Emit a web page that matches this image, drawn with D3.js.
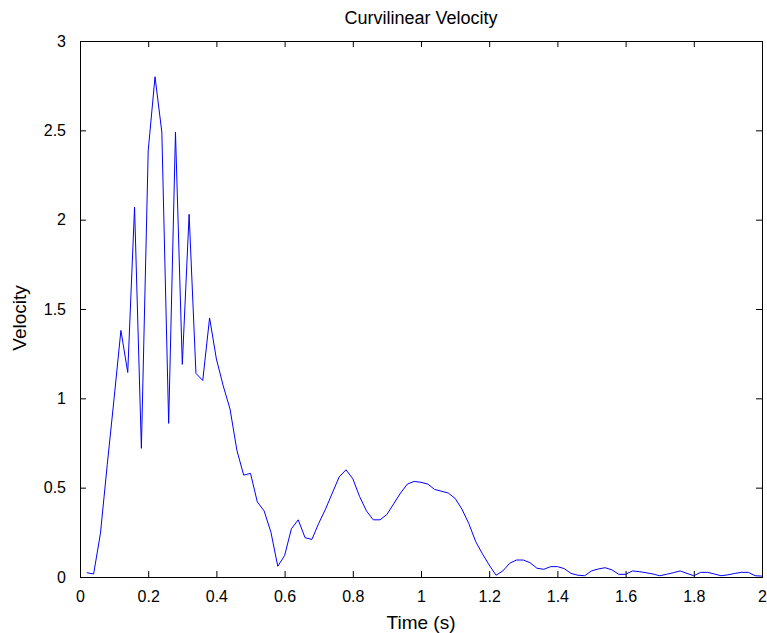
<!DOCTYPE html>
<html>
<head>
<meta charset="utf-8">
<script src="https://cdn.jsdelivr.net/npm/d3@7"></script>
<style>
  html, body { margin: 0; padding: 0; background: #fff; }
  svg { display: block; }
  text { font-family: "Liberation Sans", Arial, Helvetica, sans-serif; fill: #000; }
</style>
</head>
<body>
<svg id="chart" width="767" height="633"></svg>
<script>
// ---- Data ----
const timeStep = 0.02;
const velocity = [
  0.024, 0.017, 0.245, 0.63, 1.0, 1.38, 1.145, 2.07, 0.72, 2.385,
  2.8, 2.49, 0.86, 2.49, 1.19, 2.03, 1.14, 1.10, 1.45, 1.22,
  1.07, 0.94, 0.71, 0.57, 0.58, 0.42, 0.37, 0.25, 0.06, 0.12,
  0.27, 0.32, 0.22, 0.21, 0.30, 0.38, 0.47, 0.56, 0.60, 0.55,
  0.45, 0.37, 0.32, 0.32, 0.35, 0.41, 0.47, 0.52, 0.535, 0.53,
  0.52, 0.49, 0.48, 0.47, 0.44, 0.38, 0.30, 0.20, 0.13, 0.067,
  0.01, 0.034, 0.077, 0.095, 0.095, 0.08, 0.049, 0.043, 0.058, 0.058,
  0.047, 0.02, 0.01, 0.007, 0.034, 0.045, 0.052, 0.04, 0.015, 0.015,
  0.034, 0.03, 0.024, 0.017, 0.007, 0.015, 0.024, 0.034, 0.02, 0.007,
  0.026, 0.026, 0.017, 0.007, 0.012, 0.02, 0.026, 0.026, 0.007, 0.005
];
const time = velocity.map((v, i) => +((i + 1) * timeStep).toFixed(2));
const xTicks = [0, 0.2, 0.4, 0.6, 0.8, 1, 1.2, 1.4, 1.6, 1.8, 2];
const yTicks = [0, 0.5, 1, 1.5, 2, 2.5, 3];
const titleText = "Curvilinear Velocity";
const xLabelText = "Time (s)";
const yLabelText = "Velocity";

// ---- Layout ----
const mLeft = 80, mRight = 762, mTop = 41, mBottom = 577;
const tickLen = 6;
const svg = d3.select("#chart");

const x = d3.scaleLinear().domain([0, 2]).range([mLeft, mRight]);
const y = d3.scaleLinear().domain([0, 3]).range([mBottom, mTop]);

// Line
const line = d3.line().x((d, i) => x(time[i])).y(d => y(d));
svg.append("path")
  .datum(velocity)
  .attr("d", line)
  .attr("fill", "none")
  .attr("stroke", "#0000ff")
  .attr("stroke-width", 1);

// Axes (MATLAB-style inward ticks on all four sides)
const fmt = d => String(d);
const axB = d3.axisBottom(x).tickValues(xTicks).tickSize(-tickLen).tickPadding(tickLen + 8).tickFormat(fmt);
const axT = d3.axisTop(x).tickValues(xTicks).tickSize(-tickLen).tickFormat("");
const axL = d3.axisLeft(y).tickValues(yTicks).tickSize(-tickLen).tickPadding(tickLen + 8).tickFormat(fmt);
const axR = d3.axisRight(y).tickValues(yTicks).tickSize(-tickLen).tickFormat("");

function styleAxis(g) {
  g.selectAll("path.domain").attr("stroke", "#000").attr("stroke-width", 1);
  g.selectAll(".tick line").attr("stroke", "#000").attr("stroke-width", 1);
  g.selectAll(".tick text").style("font-size", "16px").style("font-family", '"Liberation Sans", Arial, sans-serif').attr("fill", "#000");
}

svg.append("g").attr("transform", `translate(0,${mBottom})`).call(axB).call(styleAxis);
svg.append("g").attr("transform", `translate(0,${mTop})`).call(axT).call(styleAxis);
svg.append("g").attr("transform", `translate(${mLeft},0)`).call(axL).call(styleAxis);
svg.append("g").attr("transform", `translate(${mRight},0)`).call(axR).call(styleAxis);

// Title and labels
svg.append("text")
  .attr("x", (mLeft + mRight) / 2).attr("y", 24)
  .attr("text-anchor", "middle")
  .style("font-size", "18px")
  .text(titleText);

svg.append("text")
  .attr("x", (mLeft + mRight) / 2).attr("y", 629)
  .attr("text-anchor", "middle")
  .style("font-size", "19px")
  .text(xLabelText);

svg.append("text")
  .attr("transform", `translate(26,${(mTop + mBottom) / 2 + 9}) rotate(-90)`)
  .attr("text-anchor", "middle")
  .style("font-size", "19px")
  .text(yLabelText);
</script>
</body>
</html>
